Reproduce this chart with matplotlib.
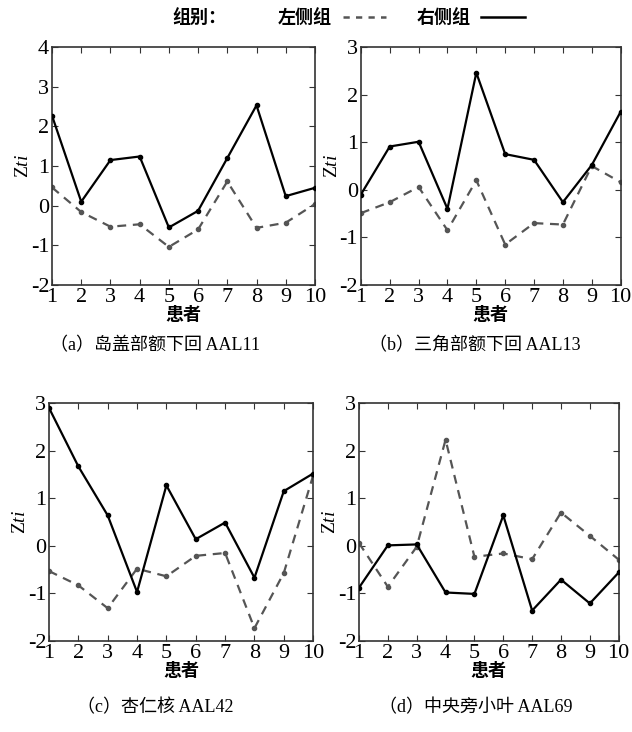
import matplotlib

matplotlib.use("Agg")
import matplotlib.pyplot as plt
from matplotlib.lines import Line2D

plt.rcParams["font.family"] = ["Liberation Serif", "Noto Sans CJK SC"]
plt.rcParams["mathtext.fontset"] = "custom"
plt.rcParams["mathtext.it"] = "Liberation Serif:italic"
plt.rcParams["mathtext.rm"] = "Liberation Serif"
plt.rcParams["axes.unicode_minus"] = False

CJK = ["Noto Sans CJK SC", "DejaVu Sans"]

# ---- data ----
patients = list(range(1, 11))
captions = ["（a）岛盖部额下回 AAL11", "（b）三角部额下回 AAL13",
            "（c）杏仁核 AAL42", "（d）中央旁小叶 AAL69"]
ylims = [(-2, 4), (-2, 3), (-2, 3), (-2, 3)]

right_a = [2.27, 0.10, 1.15, 1.24, -0.55, -0.13, 1.20, 2.53, 0.24, 0.45]
left_a = [0.46, -0.16, -0.53, -0.47, -1.04, -0.60, 0.61, -0.56, -0.43, 0.04]

right_b = [-0.10, 0.91, 1.01, -0.40, 2.46, 0.75, 0.63, -0.26, 0.52, 1.64]
left_b = [-0.49, -0.26, 0.06, -0.85, 0.20, -1.15, -0.70, -0.73, 0.50, 0.16]

right_c = [2.90, 1.67, 0.64, -0.97, 1.27, 0.14, 0.49, -0.67, 1.15, 1.52]
left_c = [-0.53, -0.83, -1.31, -0.48, -0.64, -0.21, -0.15, -1.73, -0.57, 1.48]

right_d = [-0.88, 0.01, 0.03, -0.98, -1.01, 0.64, -1.36, -0.71, -1.21, -0.56]
left_d = [0.06, -0.86, -0.02, 2.23, -0.23, -0.16, -0.28, 0.70, 0.21, -0.29]

rights = [right_a, right_b, right_c, right_d]
lefts = [left_a, left_b, left_c, left_d]

# axes rectangles in figure fractions [left, bottom, width, height]
rects = [
    [0.0823, 0.6107, 0.416, 0.325],
    [0.571, 0.6107, 0.411, 0.325],
    [0.0775, 0.1243, 0.418, 0.325],
    [0.568, 0.1243, 0.411, 0.325],
]
cap_pos = [(0.245, 0.528), (0.752, 0.528), (0.245, 0.033), (0.752, 0.033)]

fig = plt.figure(figsize=(6.32, 7.32), dpi=100)
fig.patch.set_facecolor("white")

DASH_C = "#555555"
AX_C = "#333333"

for i in range(4):
    ax = fig.add_axes(rects[i])
    ax.plot(patients, lefts[i], ls=(0, (4, 3)), color=DASH_C, lw=1.6,
            marker="o", ms=3, zorder=2)
    ax.plot(patients, rights[i], ls="-", color="black", lw=1.6,
            marker="o", ms=3, zorder=3)
    ax.set_xlim(1, 10)
    ax.set_ylim(*ylims[i])
    ax.set_xticks(patients)
    ax.set_yticks(range(ylims[i][0], ylims[i][1] + 1))
    ax.tick_params(direction="in", top=True, right=True, length=4,
                   labelsize=16, pad=2, color=AX_C)
    for s in ax.spines.values():
        s.set_color(AX_C)
        s.set_linewidth(1.2)
    ax.set_xlabel("患者", family=CJK, fontsize=13, fontweight="bold",
                  labelpad=-1)
    ax.set_ylabel(r"Z$\mathit{ti}$", fontsize=14, labelpad=-1)
    fig.text(cap_pos[i][0], cap_pos[i][1], captions[i], ha="center",
             va="center", family=["Liberation Serif", "Noto Sans CJK SC"],
             fontsize=13)

# ---- legend ----
fig.text(0.272, 0.975, "组别：", family=CJK, fontsize=13,
         fontweight="bold", va="center")
handles = [
    Line2D([], [], ls=(0, (2.5, 2.5)), color=DASH_C, lw=1.8),
    Line2D([], [], ls="-", color="black", lw=1.8),
]
fig.legend(handles, ["左侧组", "右侧组"], loc="center left",
           bbox_to_anchor=(0.428, 0.975), ncol=2, frameon=False,
           markerfirst=False, handlelength=2.4, handletextpad=0.6,
           columnspacing=1.7, borderaxespad=0,
           prop={"family": CJK, "size": 13, "weight": "bold"})

fig.savefig("out.png", dpi=100, facecolor="white")
